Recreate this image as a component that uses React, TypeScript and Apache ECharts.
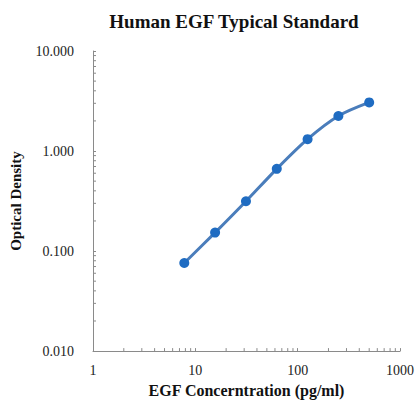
import React, { useEffect, useRef } from "react";
import * as echarts from "echarts";

const concentrations = [7.8, 15.6, 31.25, 62.5, 125, 250, 500];
const opticalDensity = [0.076, 0.153, 0.315, 0.664, 1.315, 2.24, 3.06];
const xMinorTicks = [2, 3, 4, 5, 6, 7, 8, 9, 20, 30, 40, 50, 60, 70, 80, 90, 200, 300, 400, 500, 600, 700, 800, 900];
const yMinorTicks = [0.02, 0.03, 0.04, 0.05, 0.06, 0.07, 0.08, 0.09, 0.2, 0.3, 0.4, 0.5, 0.6, 0.7, 0.8, 0.9, 2, 3, 4, 5, 6, 7, 8, 9];
const yDecimals = 3;

const AXIS_COLOR = "#8a8a8a";
const FONT = "'Liberation Serif', 'Times New Roman', serif";

export default function App() {
  const ref = useRef<HTMLDivElement>(null);
  useEffect(() => {
    const chart = echarts.init(ref.current!, null, { renderer: "svg" });
    const tickSeries = (axis: "x" | "y", values: number[]) => ({
      type: "custom",
      silent: true,
      clip: false,
      z: 1,
      data: values.map((v) => (axis === "x" ? [v, 0.01] : [1, v])),
      renderItem: (params: any, api: any) => {
        const p = api.coord([api.value(0), api.value(1)]);
        const shape =
          axis === "x"
            ? { x1: p[0], y1: p[1], x2: p[0], y2: p[1] - 3 }
            : { x1: p[0], y1: p[1], x2: p[0] + 3, y2: p[1] };
        return { type: "line", shape, style: { stroke: AXIS_COLOR, lineWidth: 1 } };
      },
    });
    chart.setOption({
      animation: false,
      backgroundColor: "#ffffff",
      textStyle: { fontFamily: FONT },
      graphic: [
        {
          type: "text",
          x: 234,
          y: 21,
          style: {
            text: "Human EGF Typical Standard",
            font: `bold 19px ${FONT}`,
            fill: "#111",
            textAlign: "center",
            textVerticalAlign: "middle",
          },
        },
      ],
      grid: { left: 93, right: 16, top: 51, bottom: 49, containLabel: false },
      xAxis: {
        type: "log",
        logBase: 10,
        min: 1,
        max: 1000,
        name: "EGF Concerntration (pg/ml)",
        nameLocation: "middle",
        nameGap: 30,
        nameTextStyle: { fontFamily: FONT, fontWeight: "bold", fontSize: 16, color: "#111" },
        axisLine: { show: true, lineStyle: { color: AXIS_COLOR, width: 1 } },
        axisTick: { show: true, inside: true, length: 3, lineStyle: { color: AXIS_COLOR } },
        axisLabel: { fontFamily: FONT, fontSize: 14, color: "#222", margin: 12, formatter: (v: number) => String(Math.round(v)) },
        splitLine: { show: false },
      },
      yAxis: {
        type: "log",
        logBase: 10,
        min: 0.01,
        max: 10,
        name: "Optical Density",
        nameLocation: "middle",
        nameGap: 70,
        nameRotate: 90,
        nameTextStyle: { fontFamily: FONT, fontWeight: "bold", fontSize: 15, color: "#111" },
        axisLine: { show: true, lineStyle: { color: AXIS_COLOR, width: 1 } },
        axisTick: { show: true, inside: true, length: 3, lineStyle: { color: AXIS_COLOR } },
        axisLabel: { fontFamily: FONT, fontSize: 14, color: "#222", margin: 19, formatter: (v: number) => v.toFixed(yDecimals) },
        splitLine: { show: false },
      },
      series: [
        tickSeries("x", xMinorTicks),
        tickSeries("y", yMinorTicks),
        {
          type: "line",
          data: concentrations.map((c, i) => [c, opticalDensity[i]]),
          smooth: 0.3,
          symbol: "circle",
          symbolSize: 10,
          z: 3,
          lineStyle: { color: "#4a7dbb", width: 3 },
          itemStyle: { color: "#1f6cc2", borderWidth: 0 },
        },
      ],
    });
    return () => chart.dispose();
  }, []);
  return <div ref={ref} style={{ position: "fixed", left: 0, top: 0, width: 417, height: 403 }} />;
}
